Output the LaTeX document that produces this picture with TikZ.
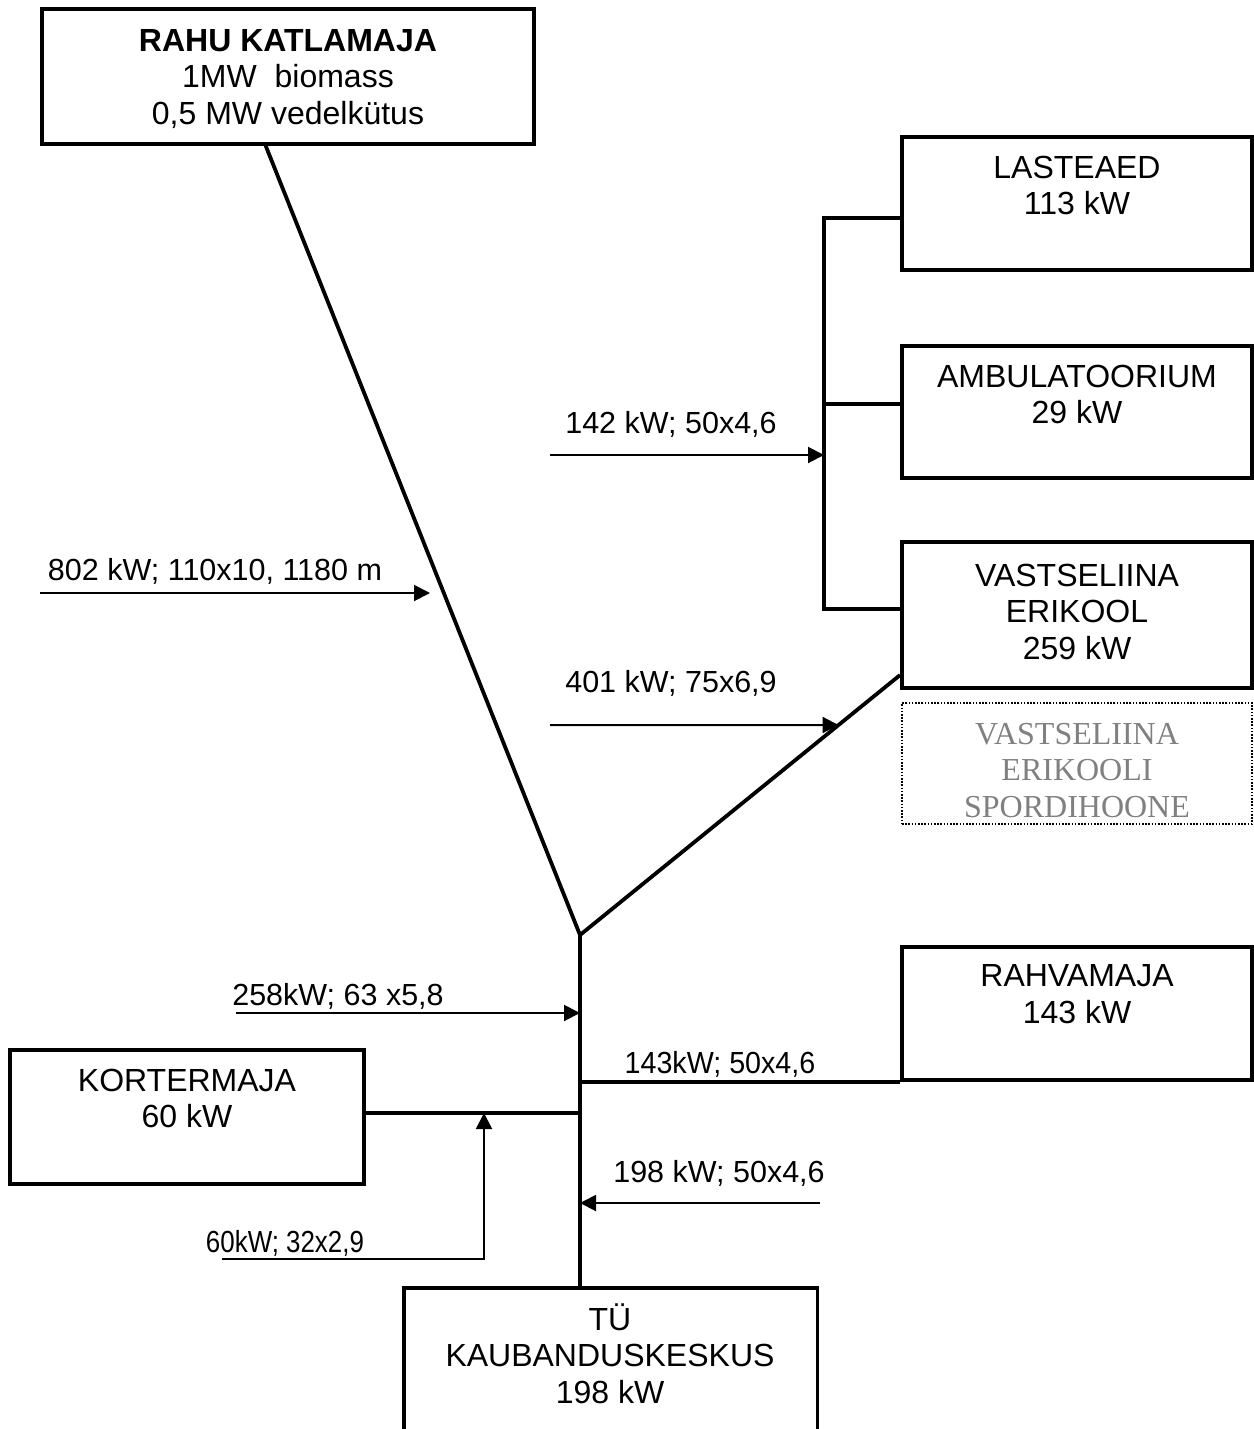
\documentclass[tikz,border=0pt]{standalone}
\usepackage{fontspec}
\setmainfont{Liberation Sans}
\newfontfamily\greyserif{Liberation Serif}
\usetikzlibrary{arrows.meta,fit,calc}
\definecolor{greytxt}{HTML}{808080}
\begin{document}
\begin{tikzpicture}[x=0.5pt,y=-0.5pt,
  boxframe/.style={draw, line width=1.9pt, inner sep=0pt},
  boxline/.style={line width=1.9pt},
  dotframe/.style={draw, line width=0.8pt, dash pattern=on 0.8pt off 0.8pt, inner sep=0pt},
  boxtext/.style={anchor=north, align=center, inner sep=0pt, font=\fontsize{16}{18.25}\selectfont},
  greytext/.style={anchor=north, align=center, inner sep=0pt, text=greytxt, font=\greyserif\fontsize{16}{18.25}\selectfont},
  flowlabel/.style={anchor=base, inner sep=0pt, font=\fontsize{15.25}{18}\selectfont},
  pipe/.style={line width=1.9pt},
  feed/.style={line width=1pt, -{Triangle[length=8pt,width=8pt]}},
]
\useasboundingbox (0,0) rectangle (1253,1429);

% boxes
\node[boxframe, fit={(42,9) (534,144)}] (rahu) {};
\node[boxtext] (rahutxt) at (288,29) {\textbf{RAHU KATLAMAJA}\\1MW\ \ biomass\\0,5 MW vedelkütus};

\node[boxframe, fit={(902,137) (1252,270)}] (lasteaed) {};
\node[boxtext] (lasteaedtxt) at (1077,155.5) {LASTEAED\\113 kW};

\node[boxframe, fit={(902,346) (1252,478)}] (ambul) {};
\node[boxtext] (ambultxt) at (1077,364.5) {AMBULATOORIUM\\29 kW};

\node[boxframe, fit={(902,542) (1252,688)}] (erikool) {};
\node[boxtext] (erikooltxt) at (1077,563.5) {VASTSELIINA\\ERIKOOL\\259 kW};

\node[dotframe, fit={(902,703) (1252,824)}] (sport) {};
\node[greytext] (sporttxt) at (1077,722.5) {VASTSELIINA\\ERIKOOLI\\SPORDIHOONE};

\node[boxframe, fit={(902,947) (1252,1080)}] (rahva) {};
\node[boxtext] (rahvatxt) at (1077,964.5) {RAHVAMAJA\\143 kW};

\node[boxframe, fit={(10,1050) (364,1184)}] (korter) {};
\node[boxtext] (kortertxt) at (187,1068.5) {KORTERMAJA\\60 kW};

\node[inner sep=0pt, fit={(404,1288) (817,1434)}] (tu) {};
\draw[boxline] (tu.south west) -- (tu.north west) -- (tu.north east) -- (tu.south east);
\node[boxtext] (tutxt) at (610,1303) {TÜ\\KAUBANDUSKESKUS\\198 kW};

% junction points
\coordinate (rahuOut) at (265,144);
\coordinate (J) at (580,935);
\coordinate (eIn) at (erikool.west |- 0,675);
\coordinate (busTop) at (824,218);
\coordinate (busMid) at (824,404);
\coordinate (busBot) at (824,609);
\coordinate (kIn) at (580,1113);

% pipes
\draw[pipe] (rahuOut) -- (J) -- (eIn);
\draw[pipe] (J) -- (J |- tu.north);
\draw[pipe] (lasteaed.west |- busTop) -- (busTop) -- (busBot) -- (erikool.west |- busBot);
\draw[pipe] (busMid) -- (ambul.west |- busMid);
\draw[pipe] (J |- rahva.south) -- (rahva.south west);
\draw[pipe] (korter.east |- kIn) -- (kIn);

% flow arrows
\coordinate (a802) at (40,593);
\coordinate (t802) at (430,593);
\draw[feed] (a802) -- (t802);
\node[flowlabel] (l802) at (215,580) {802 kW; 110x10, 1180 m};

\coordinate (a142) at (550,455);
\draw[feed] (a142) -- (a142 -| busTop);
\node[flowlabel] (l142) at (671,433) {142 kW; 50x4,6};

\coordinate (a401) at (550,725);
\draw[feed] (a401) -- ($(J)!0.8077!(eIn)$);
\node[flowlabel] (l401) at (671,692) {401 kW; 75x6,9};

\coordinate (a258) at (236,1013);
\draw[feed] (a258) -- (a258 -| J);
\node[flowlabel] (l258) at (338,1005) {258kW; 63 x5,8};

\node[flowlabel] (l143) at (720,1073) {\scalebox{0.94}[1]{143kW; 50x4,6}};

\coordinate (a60) at (222,1259);
\coordinate (a60c) at (484,1259);
\draw[feed] (a60) -- (a60c) -- (a60c |- kIn);
\node[flowlabel] (l60) at (285,1252) {\scalebox{0.85}[1]{60kW; 32x2,9}};

\coordinate (a198) at (820,1203);
\draw[feed] (a198) -- (a198 -| J);
\node[flowlabel] (l198) at (719,1182) {198 kW; 50x4,6};

\end{tikzpicture}
\end{document}
